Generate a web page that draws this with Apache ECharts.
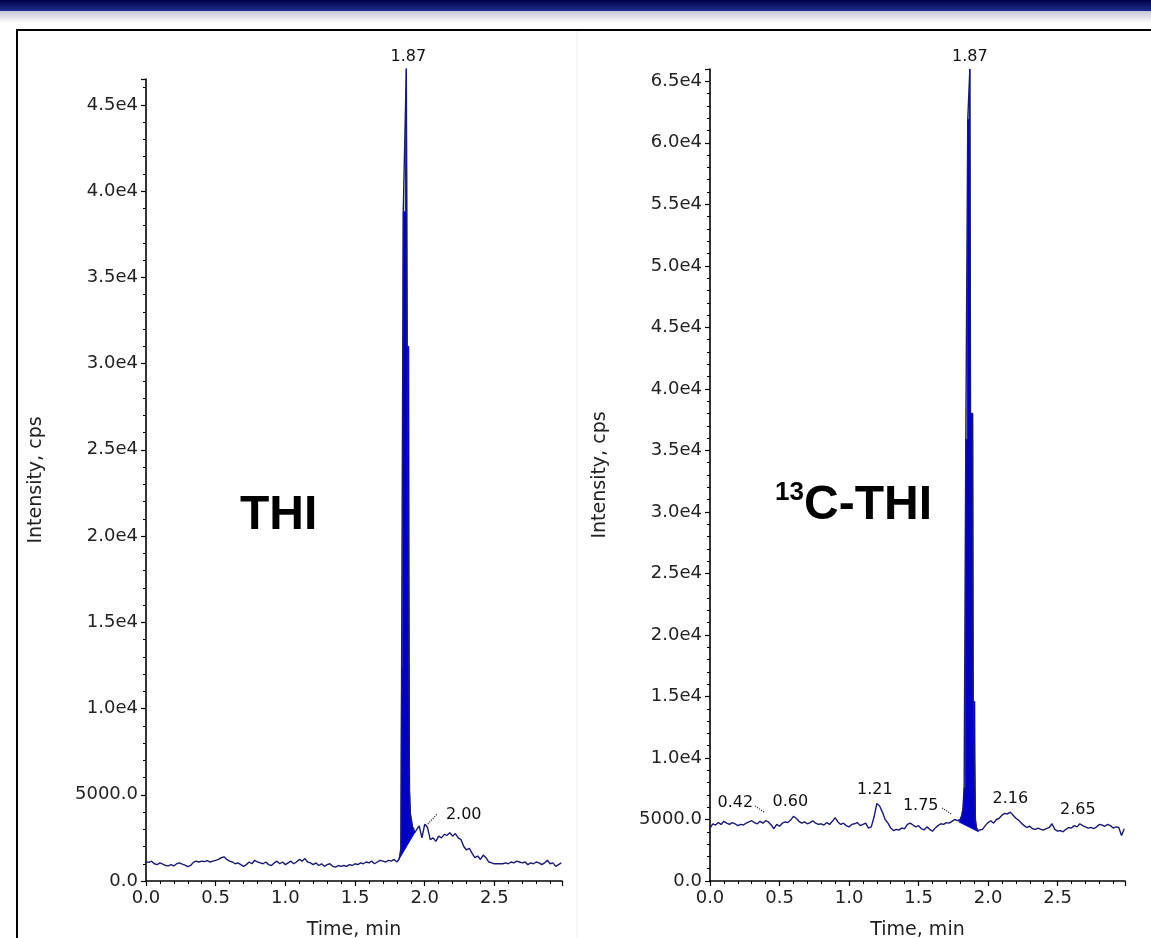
<!DOCTYPE html>
<html><head><meta charset="utf-8">
<script src="https://cdn.jsdelivr.net/npm/echarts@6/dist/echarts.min.js"></script>
<style>html,body{margin:0;padding:0;background:#fff;overflow:hidden}#c{width:1151px;height:938px}</style>
</head><body><div id="c"></div>
<script>
// ---- data ----
const timeStep = 0.02; // base sampling of the baseline traces, min
// THI trace, every 0.02 min from 0.00 to 2.98 (null = covered by peak detail)
const thiBase = [
  1100,1080,1150,1000,950,1050,980,900,880,950,
  870,1000,1050,980,920,830,900,1080,1150,1100,
  1150,1120,1180,1100,1150,1200,1250,1350,1400,1250,
  1150,1100,1000,1050,950,850,950,1100,1000,1200,
  1100,1050,1000,1100,950,900,1050,1150,1000,1100,
  950,1050,1150,1000,1100,1250,1150,1300,1100,1050,
  950,1050,900,1000,850,950,1000,850,800,900,
  850,900,850,950,900,1000,950,1050,1000,1100,
  1050,1150,1000,1100,1200,1150,1100,1200,1150,1250,
  1100,null,null,null,null,null,null,2900,3200,2500,
  3300,3100,2400,2500,2300,2600,2500,2700,2650,2800,
  2600,2750,2500,2400,2000,1800,1900,1600,1350,1450,
  1250,1500,1350,1100,1050,1000,1000,1000,1000,1050,
  1000,1100,1050,1150,1100,1050,1100,950,1050,1000,
  1100,1050,950,1050,1200,1000,1050,850,950,1050
];
const thiPeakTime = [1.815,1.822,1.829,1.834,1.841,1.846,1.860,1.868,1.874,1.886,1.891,1.897,1.903,1.909,1.915,1.921,1.928];
const thiPeakIntensity = [1250,1500,1900,12300,12300,38800,38800,47100,31000,31000,5200,3900,3600,3300,3000,3100,2800];

// 13C-THI trace
const ctBase = [
  4300,4650,4550,4750,4600,4850,4700,4600,4750,4650,
  4500,4600,4550,4700,4800,4900,4750,4650,4850,4700,
  4900,4800,4550,4250,4600,4450,4700,4800,4750,4950,
  5250,5100,4850,4700,4800,4650,4750,4900,4700,4600,
  4650,4550,4750,4600,4850,5150,4800,4600,4700,4500,
  4400,4600,4650,4750,4500,4600,4700,4300,4400,5200,
  6300,6100,5600,5000,4700,4300,4100,4200,4150,4300,
  4250,4600,4700,4550,4400,4500,4250,4150,4400,4200,
  4050,4300,4500,4650,4600,4750,4700,4850,5000,4900,
  null,null,null,null,null,null,null,4150,4200,4500,
  4750,4900,4700,5000,5100,5350,5500,5450,5600,5350,
  5100,4950,4700,4500,4350,4450,4250,4200,4300,4200,
  4150,4250,4350,4650,4200,4050,4100,4000,4200,4350,
  4300,4500,4400,4650,4500,4400,4300,4350,4250,4400,
  4600,4550,4450,4600,4500,4300,4400,4350,3700,4250
];
const ctPeakTime = [1.790,1.800,1.810,1.820,1.828,1.836,1.840,1.850,1.854,1.864,1.869,1.874,1.889,1.893,1.905,1.909,1.916,1.924,1.932];
const ctPeakIntensity = [4800,5000,5300,5900,7600,7600,35900,35900,61900,61900,66000,38000,38000,14600,14600,5000,4400,4100,4000];

// peak annotations: [time, intensity, text]
const thiLabels = [[1.868, 46500, '1.87'], [2.00, 3300, '2.00']];
const ctLabels = [[1.869, 66000, '1.87'], [0.42, 4800, '0.42'], [0.60, 5250, '0.60'], [1.20, 6300, '1.21'], [1.76, 5000, '1.75'], [2.16, 5600, '2.16'], [2.66, 4650, '2.65']];
const thiLeaders = [[[2.01, 3200], [2.09, 3900]]];
const ctLeaders = [[[0.324, 6100], [0.389, 5600]], [[1.670, 5940], [1.735, 5450]]];

const xMax = 2.985;
const thiYMax = 46500;
const ctYMax = 66000;

// ---- build ----
function mergeTrace(base, peakT, peakY) {
  const pts = [];
  base.forEach((v, i) => { if (v !== null) pts.push([+(i * timeStep).toFixed(2), v]); });
  peakT.forEach((t, i) => pts.push([t, peakY[i]]));
  pts.sort((a, b) => a[0] - b[0]);
  return pts;
}
const FONT = 'DejaVu Sans';
const labelOffsets = {
  thi: [[2, -22], [39, -9]],
  ct: [[0, -12], [-33, -19], [-3, -15], [-2, -14], [-34, -14], [0, -13], [-2, -14]]
};
function yFmt(v) {
  if (v === 0) return '0.0';
  if (v < 10000) return v.toFixed(1);
  return (v / 1e4).toFixed(1) + 'e4';
}
function xAxisCfg(idx) {
  return {
    type: 'value', gridIndex: idx, min: 0, max: xMax, interval: 0.5,
    axisLine: { show: true, onZero: false, lineStyle: { color: '#000', width: 1.6 } },
    axisTick: { show: true, length: 5, lineStyle: { color: '#000', width: 1.2 } },
    minorTick: { show: true, splitNumber: 5, length: 3, lineStyle: { color: '#000', width: 1 } },
    splitLine: { show: false }, minorSplitLine: { show: false },
    axisLabel: { formatter: v => v.toFixed(1), showMaxLabel: false, color: '#222', fontSize: 18, fontFamily: FONT, margin: 8 },
    name: 'Time, min', nameLocation: 'middle', nameGap: 40,
    nameTextStyle: { color: '#222', fontSize: 19, fontFamily: FONT }
  };
}
function yAxisCfg(idx, max) {
  return {
    type: 'value', gridIndex: idx, min: 0, max: max, interval: 5000,
    axisLine: { show: true, onZero: false, lineStyle: { color: '#000', width: 1.6 } },
    axisTick: { show: true, length: 5, lineStyle: { color: '#000', width: 1.2 } },
    minorTick: { show: true, splitNumber: 5, length: 3, lineStyle: { color: '#000', width: 1 } },
    splitLine: { show: false }, minorSplitLine: { show: false },
    axisLabel: { formatter: yFmt, showMaxLabel: false, color: '#222', fontSize: 18, fontFamily: FONT, margin: 8 },
    name: 'Intensity, cps', nameLocation: 'middle', nameRotate: 90, nameGap: 100,
    nameTextStyle: { color: '#222', fontSize: 19, fontFamily: FONT }
  };
}
function fillSeries(idx, times, vals) {
  return {
    type: 'custom', xAxisIndex: idx, yAxisIndex: idx, silent: true, z: 1, clip: false,
    data: [[times[0], vals[0]]],
    renderItem: function (params, api) {
      const pts = times.map((t, i) => api.coord([t, vals[i]]));
      return { type: 'polygon', shape: { points: pts }, style: { fill: '#0000c4', stroke: '#0000c4', lineWidth: 0.8 } };
    }
  };
}
function lineSeries(idx, data, labels, offsets, leaders) {
  return {
    type: 'line', xAxisIndex: idx, yAxisIndex: idx, data: data, showSymbol: false, clip: false, z: 3,
    lineStyle: { color: '#1a1a72', width: 1.4 }, silent: true,
    markPoint: {
      symbol: 'circle', symbolSize: 1, itemStyle: { color: 'rgba(0,0,0,0)' }, silent: true,
      data: labels.map((l, i) => ({
        coord: [l[0], l[1]], value: l[2],
        label: { show: true, position: 'inside', formatter: l[2], offset: offsets[i], color: '#111', fontSize: 16, fontFamily: FONT }
      }))
    },
    markLine: {
      symbol: ['none', 'none'], silent: true, label: { show: false },
      lineStyle: { type: 'dotted', color: '#333', width: 1.2 },
      data: leaders.map(s => [{ coord: s[0] }, { coord: s[1] }])
    }
  };
}

const chart = echarts.init(document.getElementById('c'), null, { renderer: 'canvas' });
chart.setOption({
  animation: false,
  backgroundColor: '#fff',
  grid: [
    { left: 146, top: 79, width: 416, height: 802, outerBoundsMode: 'none' },
    { left: 710, top: 69, width: 415, height: 812, outerBoundsMode: 'none' }
  ],
  xAxis: [xAxisCfg(0), xAxisCfg(1)],
  yAxis: [yAxisCfg(0, thiYMax), yAxisCfg(1, ctYMax)],
  series: [
    fillSeries(0, thiPeakTime, thiPeakIntensity),
    lineSeries(0, mergeTrace(thiBase, thiPeakTime, thiPeakIntensity), thiLabels, labelOffsets.thi, thiLeaders),
    fillSeries(1, ctPeakTime, ctPeakIntensity),
    lineSeries(1, mergeTrace(ctBase, ctPeakTime, ctPeakIntensity), ctLabels, labelOffsets.ct, ctLeaders)
  ],
  graphic: [
    { type: 'rect', shape: { x: 0, y: 0, width: 1151, height: 11 }, silent: true,
      style: { fill: new echarts.graphic.LinearGradient(0, 0, 0, 1, [{ offset: 0, color: '#00004a' }, { offset: 1, color: '#1e2c8c' }]) } },
    { type: 'rect', shape: { x: 0, y: 11, width: 1151, height: 12 }, silent: true,
      style: { fill: new echarts.graphic.LinearGradient(0, 0, 0, 1, [{ offset: 0, color: '#c4c6d4' }, { offset: 1, color: '#ffffff' }]) } },
    { type: 'rect', shape: { x: 17, y: 30, width: 1150, height: 930 }, silent: true,
      style: { fill: 'none', stroke: '#000', lineWidth: 2 } },
    { type: 'line', shape: { x1: 577, y1: 31, x2: 577, y2: 938 }, silent: true,
      style: { stroke: '#ececec', lineWidth: 1 } },
    { type: 'text', x: 240, y: 516, silent: true,
      style: { text: 'THI', font: 'bold 48px "Liberation Sans", Arial, sans-serif', fill: '#000', align: 'left', verticalAlign: 'middle' } },
    { type: 'text', x: 775, y: 493, silent: true,
      style: { text: '13', font: 'bold 26px "Liberation Sans", Arial, sans-serif', fill: '#000', align: 'left', verticalAlign: 'middle' } },
    { type: 'text', x: 804, y: 506, silent: true,
      style: { text: 'C-THI', font: 'bold 48px "Liberation Sans", Arial, sans-serif', fill: '#000', align: 'left', verticalAlign: 'middle' } }
  ]
});
</script>
</body></html>
